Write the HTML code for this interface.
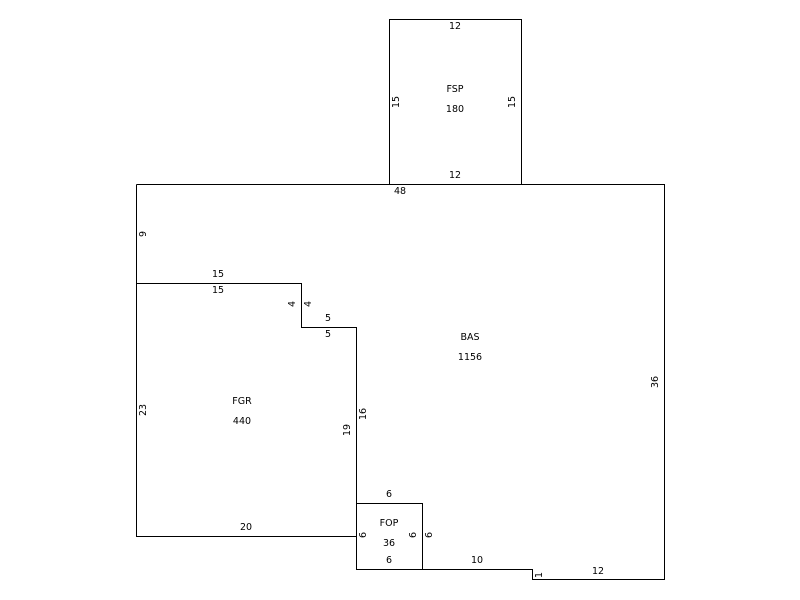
<!DOCTYPE html>
<html><head><style>body{margin:0;background:#fff}</style></head><body>
<svg width="800" height="600" xmlns="http://www.w3.org/2000/svg" style="display:block">
<g fill="none" stroke="#000" stroke-width="1" shape-rendering="crispEdges">
<rect x="389.5" y="19.5" width="132" height="165"/>
<polyline points="136.5,184.5 664.5,184.5 664.5,579.5 532.5,579.5 532.5,569.5 422.5,569.5"/>
<polyline points="136.5,184.5 136.5,536.5 356.5,536.5"/>
<polyline points="136.5,283.5 301.5,283.5 301.5,327.5 356.5,327.5 356.5,569.5 422.5,569.5"/>
<rect x="356.5" y="503.5" width="66" height="66"/>
</g>
<g font-family="DejaVu Sans, Verdana, sans-serif" font-size="9.5" fill="#000" text-anchor="middle">
<text x="455" y="29">12</text>
<text x="455" y="92">FSP</text>
<text x="455" y="112">180</text>
<text x="455" y="178">12</text>
<text x="400" y="194">48</text>
<text x="218" y="277">15</text>
<text x="218" y="293">15</text>
<text x="328" y="321">5</text>
<text x="328" y="337">5</text>
<text x="470" y="340">BAS</text>
<text x="470" y="360">1156</text>
<text x="242" y="404">FGR</text>
<text x="242" y="424">440</text>
<text x="389" y="497">6</text>
<text x="389" y="526">FOP</text>
<text x="389" y="546">36</text>
<text x="389" y="563">6</text>
<text x="246" y="530">20</text>
<text x="477" y="563">10</text>
<text x="598" y="574">12</text>
<text transform="translate(399,102) rotate(-90)">15</text>
<text transform="translate(515,102) rotate(-90)">15</text>
<text transform="translate(146,234) rotate(-90)">9</text>
<text transform="translate(295,304) rotate(-90)">4</text>
<text transform="translate(311,304) rotate(-90)">4</text>
<text transform="translate(146,410) rotate(-90)">23</text>
<text transform="translate(350,430) rotate(-90)">19</text>
<text transform="translate(366,414) rotate(-90)">16</text>
<text transform="translate(658,382) rotate(-90)">36</text>
<text transform="translate(366,535) rotate(-90)">6</text>
<text transform="translate(416,535) rotate(-90)">6</text>
<text transform="translate(432,535) rotate(-90)">6</text>
<text transform="translate(542,575) rotate(-90)">1</text>
</g>
</svg>
</body></html>
